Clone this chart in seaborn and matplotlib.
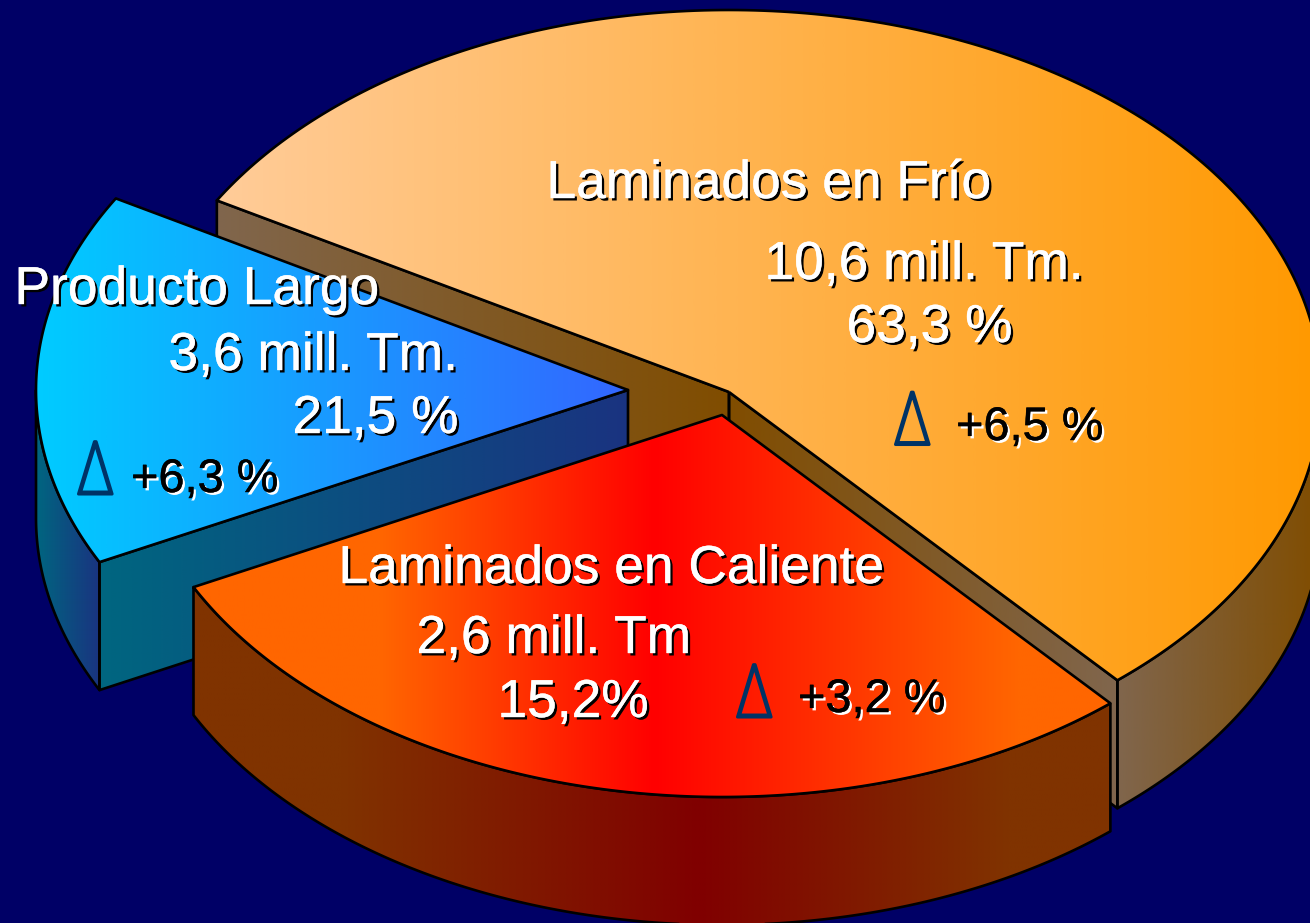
import numpy as np
import matplotlib
matplotlib.use("Agg")
import matplotlib.pyplot as plt
import matplotlib.patheffects as pe
from matplotlib.patches import Polygon
from matplotlib.transforms import Affine2D
import seaborn as sns

# ---- data ----
categories = ["Laminados en Frío", "Laminados en Caliente", "Producto Largo"]
tonnage = ["10,6 mill. Tm.", "2,6 mill. Tm", "3,6 mill. Tm."]
percent = ["63,3 %", "15,2%", "21,5 %"]
growth = ["+6,5 %", "+3,2 %", "+6,3 %"]
# angular share of each slice as it is drawn in the picture (%)
drawn_share = [55.25, 28.95, 15.8]

# ---- style ----
BG = "#000066"
W, H = 1310, 923
RX, RY, DEPTH = 592, 382, 128
START = 149.9
APEX = [(729, 392), (722, 415), (628, 390)]
TOP = [["#FFCC99", "#FF9900"], ["#FF6600", "#FF0000"], ["#00CCFF", "#3366FF"]]
SIDE = [["#80664D", "#804D00"], ["#803300", "#800000"], ["#006680", "#1A3380"]]
TOP_RAMP = ([380, 655, 1020], [0, 1, 0])
SIDE_RAMP = ([340, 700, 1010], [0, 1, 0])
DELTA_COLOR = "#003366"

sns.set_theme(style="white")
plt.rcParams["font.family"] = ["Liberation Sans", "DejaVu Sans"]

fig = plt.figure(figsize=(W / 100, H / 100), dpi=100, facecolor=BG)
ax = fig.add_axes([0, 0, 1, 1], facecolor=BG)


def arc(apex, a0, a1, dy=0, n=240):
    t = np.radians(np.linspace(a0, a1, n))
    return np.column_stack([apex[0] + RX * np.cos(t), apex[1] - RY * np.sin(t) + dy])


def shade(points, colors, ramp=None, z=1, lw=1.9):
    """Fill a polygon with a horizontal gradient and a black outline."""
    points = np.asarray(points)
    x0, x1 = points[:, 0].min(), points[:, 0].max()
    y0, y1 = points[:, 1].min(), points[:, 1].max()
    xs = np.linspace(x0, x1, 512)
    values = (xs - x0) / (x1 - x0) if ramp is None else np.interp(xs, *ramp)
    cmap = sns.blend_palette(colors, n_colors=256, as_cmap=True)
    poly = Polygon(points, closed=True, facecolor="none", edgecolor="black",
                   linewidth=lw, joinstyle="round", zorder=z + 0.1)
    ax.add_patch(poly)
    im = ax.imshow(values[None, :], cmap=cmap, vmin=0, vmax=1,
                   extent=(x0, x1, y1, y0), aspect="auto", zorder=z,
                   interpolation="bilinear")
    im.set_clip_path(poly)


def wall(a, b, colors, z=1):
    a, b = np.asarray(a), np.asarray(b)
    shade([a, b, b + [0, DEPTH], a + [0, DEPTH]], colors, None, z)


def band(apex, a0, a1, colors, ramp=None, z=1):
    shade(np.vstack([arc(apex, a0, a1), arc(apex, a1, a0, DEPTH)]), colors, ramp, z)


def top(apex, a0, a1, colors, ramp=None, z=2):
    shade(np.vstack([[apex], arc(apex, a0, a1)]), colors, ramp, z)


# slice angles follow from the drawn shares, clockwise from START
edges = START - np.cumsum([0] + drawn_share) * 3.6

# large slice
a0, a1 = edges[0], edges[1]
apex = APEX[0]
wall(arc(apex, a0, a0, n=1)[0], apex, SIDE[0], z=1)
wall(arc(apex, a1, a1, n=1)[0], apex, SIDE[0][::-1], z=1)
band(apex, a1, 0, SIDE[0], z=1)
top(apex, a0, a1, TOP[0], z=2)

# long-product slice
a0, a1 = edges[2], edges[3]
apex = APEX[2]
wall(arc(apex, a0, a0, n=1)[0], apex, SIDE[2], z=3)
band(apex, a0, -180, SIDE[2], z=3)
top(apex, a0, a1, TOP[2], z=4)

# hot-rolled slice
a0, a1 = edges[1], edges[2]
apex = APEX[1]
band(apex, a0, a1, SIDE[1], SIDE_RAMP, z=5)
top(apex, a0, a1, TOP[1], TOP_RAMP, z=6)


# ---- text ----
class StretchX(pe.AbstractPathEffect):
    """Narrow a glyph horizontally and thicken it with a stroke."""

    def __init__(self, sx, stroke):
        super().__init__()
        self.sx = sx
        self.stroke = stroke

    def draw_path(self, renderer, gc, tpath, affine, rgbFace=None):
        gc0 = renderer.new_gc()
        gc0.copy_properties(gc)
        gc0.set_linewidth(self.stroke)
        gc0.set_foreground(DELTA_COLOR)
        renderer.draw_path(gc0, tpath, Affine2D().scale(self.sx, 1) + affine, rgbFace)
        gc0.restore()


def label(x, y, s, size=38.4, color="white", under="black"):
    ax.text(x, y, s, fontsize=size, color=color, ha="left", va="baseline", zorder=10,
            path_effects=[pe.SimplePatchShadow(offset=(1.8, -1.8), shadow_rgbFace=under, alpha=1),
                          pe.withStroke(linewidth=0.3, foreground=color)])


def delta(x, y):
    ax.text(x, y, "Δ", fontsize=53, color=DELTA_COLOR, family="Roboto", weight="light",
            ha="left", va="baseline", zorder=10, path_effects=[StretchX(0.72, 2.2)])


label(546.5, 198, categories[0])
label(764.5, 279, tonnage[0])
label(846.5, 342, percent[0])
label(956, 440, growth[0], 33.8, "black", "white")
delta(894, 444.5)

label(338.5, 583, categories[1])
label(416.5, 653, tonnage[1])
label(497.5, 717, percent[1])
label(798, 712, growth[1], 33.8, "black", "white")
delta(736, 717)

label(14.5, 304, categories[2])
label(168.5, 370, tonnage[2])
label(292.5, 433, percent[2])
label(131, 492, growth[2], 33.8, "black", "white")
delta(77, 494)

ax.set_xlim(0, W)
ax.set_ylim(H, 0)
ax.axis("off")
fig.savefig("out.png", dpi=100, facecolor=BG)
